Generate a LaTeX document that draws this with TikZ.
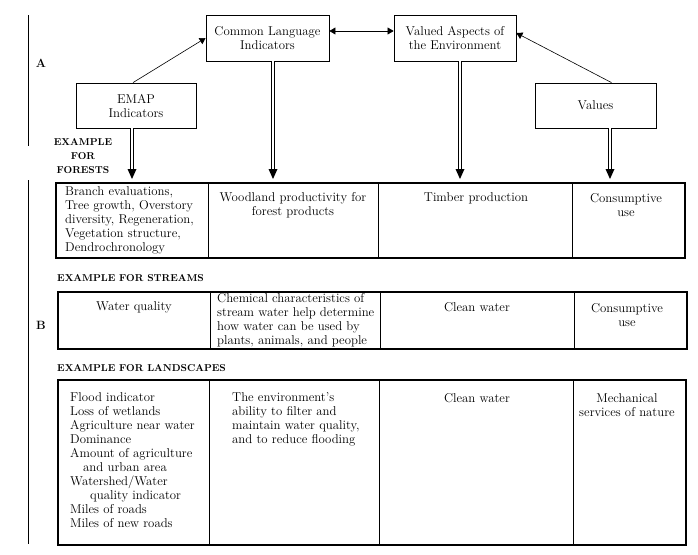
\documentclass[tikz,border=0pt]{standalone}
\usetikzlibrary{arrows.meta,decorations.markings,calc}
\begin{document}
\begin{tikzpicture}[x=1pt,y=-1pt,
  font=\fontsize{12.8}{14}\selectfont,
  box/.style={draw, line width=0.8pt, inner sep=0pt, align=center},
  tab/.style={draw, line width=1.8pt, inner sep=0pt, anchor=north west},
  div/.style={line width=0.8pt},
  txt/.style={inner sep=0pt, align=center},
  head/.style={inner sep=0pt, align=center, font=\fontsize{10}{14}\selectfont\bfseries},
  lnk/.style={line width=0.6pt, -{Triangle[length=6pt,width=7pt]}},
  dbl/.style={double, double distance=2pt, line width=0.6pt, shorten >=6pt,
    postaction={decorate, decoration={markings,
      mark=at position 1 with {\fill (0pt,0pt) -- (-10pt,4.5pt) -- (-10pt,-4.5pt) -- cycle;}}}}
]
\useasboundingbox (0,0) rectangle (698,554);

% section bars and letters
\draw[line width=0.8pt] (28,15) coordinate (a1) -- (28,146) coordinate (a2);
\draw[line width=0.8pt] (28,180) coordinate (b1) -- (28,544) coordinate (b2);
\node[head, font=\fontsize{12}{14}\selectfont\bfseries] (lA) at (41,63) {A};
\node[head, font=\fontsize{12}{14}\selectfont\bfseries] (lB) at (41,325) {B};

% top boxes
\node[box, minimum width=123pt, minimum height=46pt] (cli) at (267.5,38) {Common Language\\Indicators};
\node[box, minimum width=122pt, minimum height=46pt] (vae) at (455,38) {Valued Aspects of\\the Environment};
\node[box, minimum width=120pt, minimum height=45pt] (emap) at (136,105.5) {EMAP\\Indicators};
\node[box, minimum width=121pt, minimum height=45pt] (vals) at (595.5,105.5) {Values};

% tables
\node[tab, minimum width=629pt, minimum height=75pt] (ftab) at (55,182) {};
\node[tab, minimum width=629pt, minimum height=57pt] (stab) at (57,291) {};
\node[tab, minimum width=628pt, minimum height=165pt] (ltab) at (57,379) {};

\foreach \x in {208,378,572} \draw[div] (\x,0 |- ftab.north) -- (\x,0 |- ftab.south);
\foreach \x in {210,380,574} \draw[div] (\x,0 |- stab.north) -- (\x,0 |- stab.south);
\foreach \x in {209,379,573} \draw[div] (\x,0 |- ltab.north) -- (\x,0 |- ltab.south);

% headings
\node[head] (hf) at (83,156) {EXAMPLE\\FOR\\FORESTS};
\node[head, anchor=west] (hs) at (57,278) {EXAMPLE FOR STREAMS};
\node[head, anchor=west] (hl) at (57,368) {EXAMPLE FOR LANDSCAPES};

% connectors
\draw[lnk] ([xshift=-3pt]emap.north) -- (cli.west);
\draw[lnk] ([xshift=16pt]vals.north) -- ([yshift=5pt]vae.east);
\draw[line width=0.6pt, {Triangle[length=6pt,width=7pt]}-{Triangle[length=6pt,width=7pt]}]
  ([yshift=7pt]cli.east) -- ([yshift=7pt]vae.west);

\draw[dbl] ([xshift=-4pt]emap.south) -- ($([xshift=-4pt]emap.south |- ftab.north)+(0,-3)$);
\draw[dbl] ([xshift=5.5pt]cli.south) -- ($([xshift=5.5pt]cli.south |- ftab.north)+(0,-3)$);
\draw[dbl] ([xshift=5pt]vae.south) -- ($([xshift=5pt]vae.south |- ftab.north)+(0,-3)$);
\draw[dbl] ([xshift=14.5pt]vals.south) -- ($([xshift=14.5pt]vals.south |- ftab.north)+(0,-3)$);

% forest row
\node[txt, anchor=west, align=left] (f1) at (65,220) {Branch evaluations,\\Tree growth, Overstory\\diversity, Regeneration,\\Vegetation structure,\\Dendrochronology};
\node[txt] (f2) at (293,205.5) {Woodland productivity for\\forest products};
\node[txt] (f3) at (476,198) {Timber production};
\node[txt] (f4) at (626,205.5) {Consumptive\\use};

% streams row
\node[txt] (s1) at (134,307) {Water quality};
\node[txt, anchor=west, align=left] (s2) at (217,320.5) {Chemical characteristics of\\stream water help determine\\how water can be used by\\plants, animals, and people};
\node[txt] (s3) at (477,307) {Clean water};
\node[txt] (s4) at (627,315) {Consumptive\\use};

% landscapes row
\node[txt, anchor=west, align=left] (l1) at (70,460.5) {Flood indicator\\Loss of wetlands\\Agriculture near water\\Dominance\\Amount of agriculture\\\hspace*{13pt}and urban area\\Watershed/Water\\\hspace*{20pt}quality indicator\\Miles of roads\\Miles of new roads};
\node[txt, anchor=west, align=left] (l2) at (232,419) {The environment's\\ability to filter and\\maintain water quality,\\and to reduce flooding};
\node[txt] (l3) at (477,398) {Clean water};
\node[txt] (l4) at (627,405) {Mechanical\\services of nature};
\end{tikzpicture}
\end{document}
